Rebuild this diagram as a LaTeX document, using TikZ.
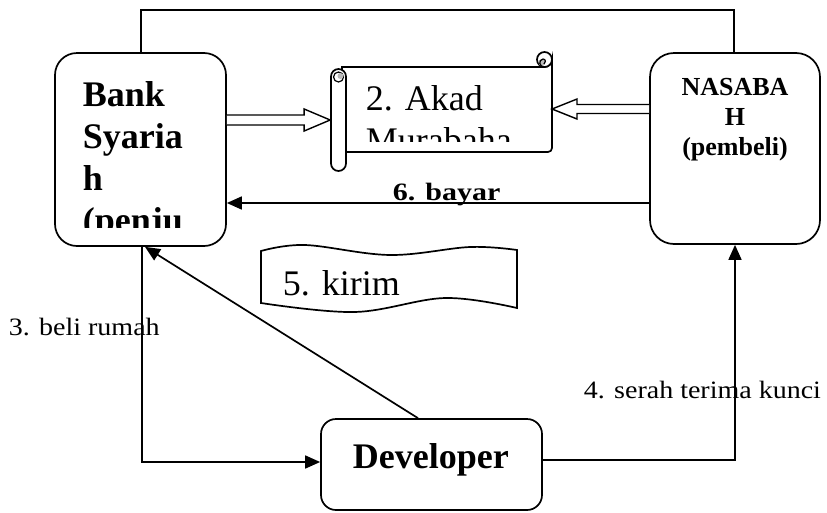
\documentclass[tikz,border=0pt]{standalone}
\usepackage{fontspec}
\setmainfont{Liberation Serif}
\newfontfamily\camfont[FakeStretch=1.12]{Liberation Serif}
\newfontfamily\cambfont[FakeStretch=1.2]{Liberation Serif}
\usetikzlibrary{arrows.meta,calc}
\begin{document}
\begin{tikzpicture}[x=1pt,y=-1pt,line width=1.7pt,
  box/.style={draw,fill=white,inner sep=0pt},
  tip/.style={-{Triangle[length=15pt,width=13pt]}},
  blk/.style={draw,fill=white,line width=1.4pt},
  lbl/.style={inner sep=0pt,anchor=base west},
  big/.style={font=\fontsize{36}{42}\selectfont},
  bigb/.style={font=\fontsize{36}{42}\selectfont\bfseries},
  midb/.style={inner sep=0pt,anchor=base,font=\fontsize{26}{30}\selectfont\bfseries},
  side/.style={lbl,font=\fontsize{25}{30}\selectfont\camfont}]
\useasboundingbox (0,0) rectangle (827,512);

% main boxes
\node[box,rounded corners=22pt,minimum width=171pt,minimum height=193pt] (bank) at (140.5,149.5) {};
\node[box,rounded corners=24pt,minimum width=170pt,minimum height=191pt] (nas) at (735,148.5) {};
\node[box,rounded corners=15pt,minimum width=221pt,minimum height=91pt] (dev) at (431.5,464.5) {};

% bank text (clipped)
\begin{scope}
\clip (55,53) rectangle (226,227);
\node[lbl,bigb] (b1) at (82,106) {Bank};
\node[lbl,bigb] (b2) at (82,148) {Syaria};
\node[lbl,bigb] (b3) at (82,190) {h};
\node[lbl,bigb] (b4) at (82,232) {(penju};
\end{scope}

% nasabah text
\node[midb] (n1) at (735,95) {NASABA};
\node[midb] (n2) at (735,125) {H};
\node[midb] (n3) at (735,155) {(pembeli)};

% developer text
\node[lbl,bigb] (d1) at (352,468) {Developer};

% scroll: body
\draw[fill=white] (342,67) -- (544.5,67) .. controls (548.6,67) and (552,63.6) .. (552,59.5)
  [rounded corners=4pt] -- (552,152) -- (342,152) [sharp corners] -- cycle;
\draw[fill=white] (544.5,59.5) circle[radius=7.5pt];
\fill[gray!55] (542,62.5) circle[radius=3.5pt];
\draw[line width=1.2pt] (544.5,67) .. controls (539,67) and (538,60) .. (543,59) .. controls (546,59) and (546,63) .. (544,64);
\coordinate (akadE) at (552,109);
% scroll: left roll
\node[box,rounded corners=7.5pt,minimum width=15pt,minimum height=102pt] (roll) at (338.5,120) {};
\draw[line width=1.2pt] (338.5,77) circle[radius=5pt];
\fill[gray!55] (340.5,76) circle[radius=3pt];
% scroll text (clipped)
\begin{scope}
\clip (347,67) rectangle (551,141);
\node[lbl,big] (a1) at (365,110) {2. Akad};
\node[lbl,big] (a2) at (365,152) {Murabaha};
\end{scope}

% wave banner
\draw[fill=white] plot[smooth,tension=0.6] coordinates {(261,251) (305,245) (390,255) (470,247) (517,250)}
  -- plot[smooth,tension=0.6] coordinates {(517,308) (445,298) (355,312) (261,303)} -- cycle;
\node[lbl,big] (kirim) at (282,295) {5. kirim};

% block arrows
\draw[blk] (bank.east |- 0,115) -- ($(roll.west)+(-26,-5)$) -- ($(roll.west)+(-26,-11)$) -- (roll.west)
  -- ($(roll.west)+(-26,11)$) -- ($(roll.west)+(-26,5)$) -- (bank.east |- 0,125);
\draw[blk] (nas.west |- 0,104.5) -- ($(akadE)+(25,-4.5)$) -- ($(akadE)+(25,-10)$) -- (akadE)
  -- ($(akadE)+(25,10)$) -- ($(akadE)+(25,4.5)$) -- (nas.west |- 0,113.5);

% connectors
\draw (bank.north -| 141,0) -- (141,10) -- (734,10) -- (nas.north -| 734,0);
\draw[tip] (nas.west |- 0,203) -- (bank.east |- 0,203);
\draw[tip] (bank.south -| 142,0) |- (dev.west |- 0,462);
\draw[tip] (dev.east |- 0,460) -| (nas.south -| 735,0);
\draw[tip] (dev.north -| 418,0) -- (bank.south -| 145,0);

% labels
\node[lbl,font=\fontsize{25}{30}\selectfont\cambfont\bfseries] (l6) at (392,200) {6. bayar};
\node[side] (l3) at (8,335) {3. beli rumah};
\node[side] (l4) at (583,398) {4. serah terima kunci};
\end{tikzpicture}
\end{document}
